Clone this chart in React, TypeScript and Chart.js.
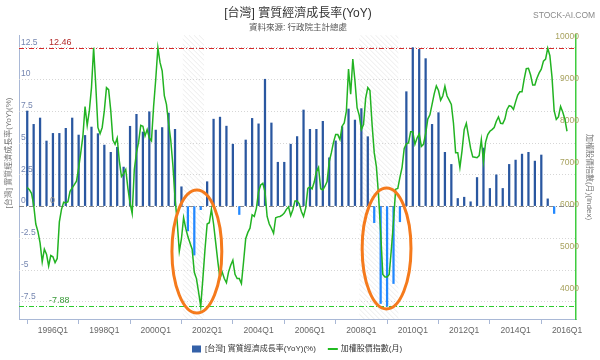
import React, { useEffect, useRef } from 'react';
import { Chart, registerables } from 'chart.js';
Chart.register(...registerables);

// ---------------- DATA ----------------
const START_YEAR = 1995;
// Quarterly real GDP growth (YoY %), 1995Q1 .. 2015Q3
const gdpYoY = [
  7.48, 6.43, 6.93, 5.12,
  5.72, 5.72, 6.12, 6.93,
  5.59, 5.56, 6.22, 5.7,
  4.8, 4.23, 4.63, 3.07,
  6.28, 7.22, 5.83, 7.42,
  5.98, 6.18, 7.32, 6.04,
  1.52, -1.95, -3.85, -0.28,
  1.92, 6.84, 7.0, 6.29,
  4.87, -0.66, 5.2, 6.9,
  6.47, 9.98, 6.54, 3.45,
  3.45, 4.87, 5.47, 7.56,
  6.04, 6.04, 6.67, 3.8,
  5.13, 6.25, 7.64, 6.77,
  7.67, 5.46, -1.3, -7.66,
  -7.88, -6.09, -1.23, 9.0,
  12.46, 12.33, 11.6, 6.43,
  7.35, 4.23, 3.28, 0.6,
  0.7, 0.34, 2.25, 4.57,
  1.39, 2.46, 1.39, 3.28,
  3.62, 4.09, 4.23, 3.54,
  4.02, 0.57, -0.58,
];
const quarterNames = ['Q1', 'Q2', 'Q3', 'Q4'];
const quarterLabels = gdpYoY.map((_, i) => `${START_YEAR + Math.floor(i / 4)}${quarterNames[i % 4]}`);

// Monthly TAIEX (加權股價指數), Jan 1995 .. Jan 2016
const taiexMonthly = [
  6470, 6420, 6330, 6060, 5600, 5420, 5150, 4700, 5000, 4880, 4600, 4850,
  4820, 4680, 4780, 5650, 5950, 6120, 6100, 6130, 6380, 6460, 6540, 6620,
  6930, 7300, 7700, 8400, 7950, 8300, 8850, 9800, 8900, 7900, 7750, 7900,
  8300, 8850, 8800, 8300, 7600, 7500, 7650, 7100, 6730, 6800, 6900, 6450,
  6100, 5850, 6900, 7300, 7550, 7950, 7930, 7700, 7850, 7650, 7580, 8400,
  9050, 9800, 9450, 9250, 8660, 8450, 8000, 7600, 7000, 6220, 5660, 4950,
  5250, 5750, 5500, 5300, 5150, 5000, 4450, 4300, 3980, 3640, 4300, 5000,
  5600, 5630, 5950, 5600, 5150, 4700, 4300, 4460, 4300, 4200, 4460, 4620,
  4740, 4400, 4300, 4300, 4180, 4700, 5250, 5400, 5500, 5820, 5780, 5980,
  6370, 6530, 6570, 6370, 5780, 5600, 5500, 5380, 5750, 5770, 5780, 5810,
  5860, 5950, 6010, 5800, 5940, 6150, 6150, 6080, 5900, 5780, 5980, 6450,
  6490, 6440, 6600, 6850, 6950, 6440, 6410, 6500, 6610, 7090, 7300, 7550,
  7730, 7730, 7610, 7930, 8010, 8290, 9290, 8690, 9530, 9010, 8370, 8190,
  7850, 7970, 8600, 8850, 8780, 7970, 7300, 6970, 6300, 5400, 4400, 4340,
  4340, 4400, 5000, 5660, 6430, 6450, 6710, 6950, 7400, 7510, 7530, 7800,
  7800, 7500, 7650, 7750, 7450, 7500, 7750, 8100, 8200, 8450, 8700, 8890,
  8780, 8550, 8650, 8880, 8650, 8550, 8450, 8000, 7300, 7300, 6950, 7350,
  7850, 8000, 7700, 7400, 7200, 7190, 7180, 7230, 7610, 7090, 7550, 7730,
  7810, 7850, 7900, 8050, 8150, 8000, 7990, 8100, 8330, 8420, 8400, 8330,
  8510, 8670, 8750, 8750, 9050, 9300, 9310, 9150, 8910, 8910, 9080, 9200,
  9290, 9480, 9530, 9790, 9610, 9100, 8300, 8090, 8150, 8400, 8270, 8100,
  7810,
];

const xTickValues = [1996, 1998, 2000, 2002, 2004, 2006, 2008, 2010, 2012, 2014, 2016];
const xTickLabels = ['1996Q1', '1998Q1', '2000Q1', '2002Q1', '2004Q1', '2006Q1', '2008Q1', '2010Q1', '2012Q1', '2014Q1', '2016Q1'];
const leftTickValues = [-7.5, -5, -2.5, 0, 2.5, 5, 7.5, 10, 12.5];
const rightTickValues = [4000, 5000, 6000, 7000, 8000, 9000, 10000];
const recessionBands = [[2001.05, 2001.88], [2007.92, 2009.44]];
// highlight ellipses: [centre year, centre value, radius years, radius value]
const highlightEllipses = [[2001.6, -3.57, 0.97, 4.84], [2008.98, -3.33, 0.95, 4.76]];

const TITLE = '[台灣] 實質經濟成長率(YoY)';
const SUBTITLE = '資料來源: 行政院主計總處';
const WATERMARK = 'STOCK-AI.COM';
const GDP_NAME = '[台灣] 實質經濟成長率(YoY)(%)';
const IDX_NAME = '加權股價指數(月)';
const RIGHT_TITLE = '加權股價指數(月)(Index)';

const X_MIN = 1994.68;
const X_MAX = 2016.35;

const FONT = '"Liberation Sans", Arial, "Noto Sans CJK TC", sans-serif';

// ---------------- derived axis ranges ----------------
const gdpMax = Math.max(...gdpYoY);
const gdpMin = Math.min(...gdpYoY);
const idxMax = Math.max(...taiexMonthly);
const idxMin = Math.min(...taiexMonthly);
const leftMin = gdpMin - 1;
const leftMax = gdpMax + 1;
const k = (idxMax - idxMin) / (gdpMax - gdpMin);
const rightMin = idxMin - (gdpMin - leftMin) * k;
const rightMax = idxMax + (leftMax - gdpMax) * k;

const overlayPlugin = {
  id: 'overlay',
  beforeDatasetsDraw(chart: any) {
    const { ctx, chartArea: ca, scales } = chart;
    const xs = scales.x;
    const ys = scales.y;
    ctx.save();
    // hatched bands
    for (const [a, b] of recessionBands) {
      const x0 = xs.getPixelForValue(a);
      const x1 = xs.getPixelForValue(b);
      ctx.save();
      ctx.beginPath();
      ctx.rect(x0, ca.top, x1 - x0, ca.bottom - ca.top);
      ctx.clip();
      ctx.strokeStyle = '#ececec';
      ctx.lineWidth = 1;
      const h = ca.bottom - ca.top;
      for (let s = x0 - h; s < x1 + 2; s += 5) {
        ctx.beginPath();
        ctx.moveTo(s, ca.top);
        ctx.lineTo(s + h, ca.bottom);
        ctx.stroke();
      }
      ctx.restore();
    }
    // grid lines
    ctx.lineWidth = 1;
    ctx.setLineDash([1, 2]);
    ctx.strokeStyle = '#d6d6d6';
    for (const v of leftTickValues) {
      if (v === 0) continue;
      const py = Math.round(ys.getPixelForValue(v)) + 0.5;
      ctx.beginPath();
      ctx.moveTo(ca.left, py);
      ctx.lineTo(ca.right, py);
      ctx.stroke();
    }
    const refLine = (v: number, color: string) => {
      const py = Math.round(ys.getPixelForValue(v)) + 0.5;
      ctx.strokeStyle = color;
      ctx.setLineDash([5, 2, 1, 2]);
      ctx.beginPath();
      ctx.moveTo(ca.left, py);
      ctx.lineTo(ca.right, py);
      ctx.stroke();
    };
    refLine(0, '#8a8a8a');
    refLine(gdpMax, '#d42a2a');
    refLine(gdpMin, '#2ccc2c');
    ctx.restore();
  },
  afterDatasetsDraw(chart: any) {
    const { ctx, chartArea: ca, scales } = chart;
    const xs = scales.x;
    const ys = scales.y;
    ctx.save();
    // reference labels
    ctx.font = `9px ${FONT}`;
    ctx.textAlign = 'left';
    ctx.textBaseline = 'bottom';
    const lx = ca.left + 30;
    ctx.fillStyle = '#b22a2a';
    ctx.fillText(gdpMax.toFixed(2), lx, ys.getPixelForValue(gdpMax) - 1);
    ctx.fillStyle = '#3a9a3a';
    ctx.fillText(gdpMin.toFixed(2), lx, ys.getPixelForValue(gdpMin) - 1);
    ctx.fillStyle = '#888';
    ctx.fillText('0', lx + 1, ys.getPixelForValue(0) - 1);
    // ellipses
    ctx.strokeStyle = '#f57a1c';
    ctx.lineWidth = 3;
    for (const [cx, cy, rx, ry] of highlightEllipses) {
      const px = xs.getPixelForValue(cx);
      const py = ys.getPixelForValue(cy);
      const prx = Math.abs(xs.getPixelForValue(cx + rx) - px);
      const pry = Math.abs(ys.getPixelForValue(cy + ry) - py);
      ctx.beginPath();
      ctx.ellipse(px, py, prx, pry, 0, 0, Math.PI * 2);
      ctx.stroke();
    }
    ctx.restore();
  },
  afterDraw(chart: any) {
    const { ctx, chartArea: ca } = chart;
    ctx.save();
    ctx.textBaseline = 'middle';
    // title
    ctx.textAlign = 'center';
    ctx.fillStyle = '#333';
    ctx.font = `12px ${FONT}`;
    ctx.fillText(TITLE, 298, 14);
    ctx.fillStyle = '#555';
    ctx.font = `8.5px ${FONT}`;
    ctx.fillText(SUBTITLE, 298, 28);
    // watermark
    ctx.textAlign = 'left';
    ctx.fillStyle = '#8a8a8a';
    ctx.font = `8.5px ${FONT}`;
    ctx.fillText(WATERMARK, 533, 16);
    // axis titles
    ctx.fillStyle = '#777';
    ctx.font = `8px ${FONT}`;
    ctx.save();
    ctx.translate(9, 153);
    ctx.rotate(-Math.PI / 2);
    ctx.textAlign = 'center';
    ctx.fillText(GDP_NAME, 0, 0);
    ctx.restore();
    ctx.save();
    ctx.translate(589, (ca.top + ca.bottom) / 2);
    ctx.rotate(Math.PI / 2);
    ctx.textAlign = 'center';
    ctx.fillText(RIGHT_TITLE, 0, 0);
    ctx.restore();
    // legend
    ctx.font = `8px ${FONT}`;
    ctx.textAlign = 'left';
    const ly = 349;
    let lx = 192;
    ctx.fillStyle = '#3461a8';
    ctx.fillRect(lx, ly - 3.5, 9, 7);
    lx += 13;
    ctx.fillStyle = '#333';
    ctx.fillText(GDP_NAME, lx, ly);
    lx += ctx.measureText(GDP_NAME).width + 12;
    ctx.strokeStyle = '#22bb22';
    ctx.lineWidth = 2;
    ctx.beginPath();
    ctx.moveTo(lx, ly);
    ctx.lineTo(lx + 10, ly);
    ctx.stroke();
    lx += 13;
    ctx.fillText(IDX_NAME, lx, ly);
    ctx.restore();
  },
};

export default function App() {
  const ref = useRef<HTMLCanvasElement>(null);
  useEffect(() => {
    if (!ref.current) return;
    const barData = gdpYoY.map((v, i) => ({ x: START_YEAR + i / 4, y: v, q: quarterLabels[i] }));
    const lineData = taiexMonthly.map((v, m) => ({ x: START_YEAR + m / 12, y: v }));
    const chart = new Chart(ref.current, {
      type: 'bar',
      data: {
        datasets: [
          {
            type: 'line',
            label: IDX_NAME,
            data: lineData,
            yAxisID: 'y1',
            borderColor: '#22b322',
            borderWidth: 1.5,
            pointRadius: 0,
            tension: 0,
            order: 0,
          } as any,
          {
            type: 'bar',
            label: GDP_NAME,
            data: barData,
            yAxisID: 'y',
            backgroundColor: gdpYoY.map((v) => (v >= 0 ? '#2a57a0' : '#2288ff')),
            barThickness: 1.6,
            order: 1,
          } as any,
        ],
      },
      options: {
        responsive: false,
        animation: false,
        layout: { padding: { left: 19, right: 24, top: 35, bottom: 0 } },
        plugins: { legend: { display: false }, tooltip: { enabled: false }, title: { display: false } },
        scales: {
          x: {
            type: 'linear',
            min: X_MIN,
            max: X_MAX,
            offset: false,
            afterBuildTicks: (s: any) => { s.ticks = xTickValues.map((v) => ({ value: v })); },
            afterFit: (s: any) => { s.height = 41; },
            grid: { drawOnChartArea: false, drawTicks: true, tickLength: 5, color: '#a9b8d6' },
            border: { color: '#a9b8d6', width: 1 },
            ticks: {
              color: '#666',
              font: { size: 8.5, family: FONT },
              padding: 2,
              maxRotation: 0,
              autoSkip: false,
              callback: (_v: any, i: number) => xTickLabels[i],
            },
          },
          y: {
            position: 'left',
            min: leftMin,
            max: leftMax,
            afterBuildTicks: (s: any) => { s.ticks = leftTickValues.map((v) => ({ value: v })); },
            afterFit: (s: any) => { s.width = 0; },
            grid: { drawOnChartArea: false, drawTicks: false },
            border: { color: '#a9b8d6', width: 1 },
            ticks: {
              mirror: true,
              padding: 2,
              labelOffset: -5,
              color: '#7586b0',
              font: { size: 8.5, family: FONT },
              callback: (v: any) => String(v),
            },
          },
          y1: {
            position: 'right',
            min: rightMin,
            max: rightMax,
            afterBuildTicks: (s: any) => { s.ticks = rightTickValues.map((v) => ({ value: v })); },
            afterFit: (s: any) => { s.width = 0; },
            grid: { drawOnChartArea: false, drawTicks: false },
            border: { color: '#3fcc3f', width: 1.5 },
            ticks: {
              mirror: true,
              padding: 3,
              labelOffset: -3,
              color: '#a8a25e',
              font: { size: 8.5, family: FONT },
              callback: (v: any) => String(v),
            },
          },
        },
      },
      plugins: [overlayPlugin],
    } as any);
    return () => chart.destroy();
  }, []);
  return (
    <div style={{ position: 'absolute', left: 0, top: 0, width: 600, height: 360, background: '#fff' }}>
      <canvas ref={ref} width={600} height={360} style={{ display: 'block' }} />
    </div>
  );
}
